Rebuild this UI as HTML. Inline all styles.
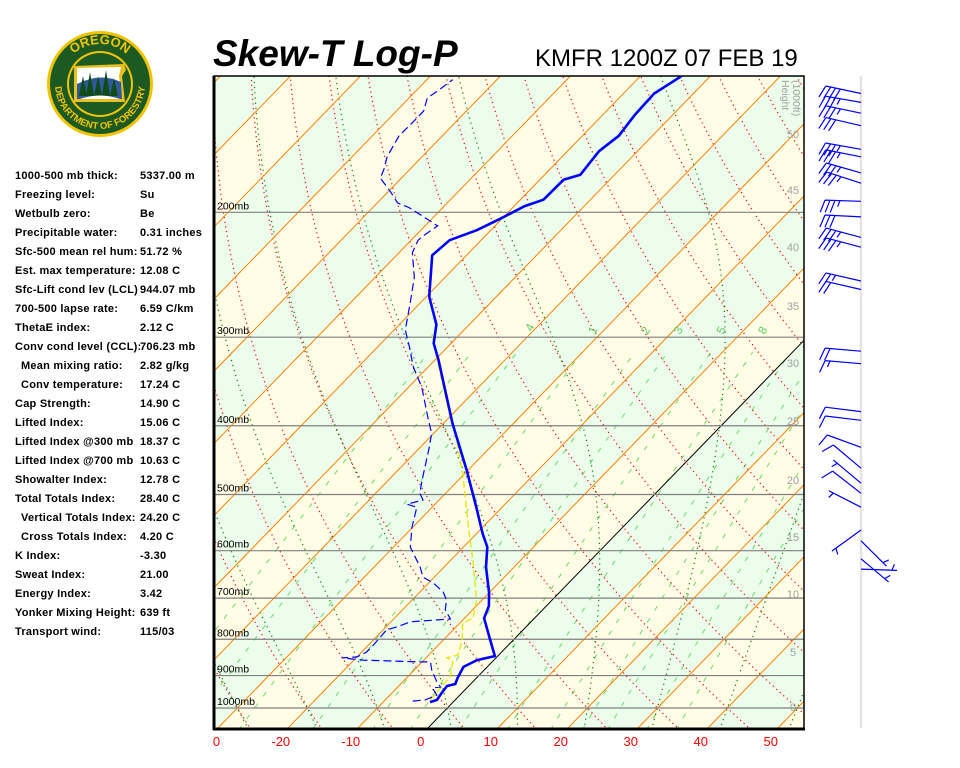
<!DOCTYPE html>
<html><head><meta charset="utf-8"><title>Skew-T Log-P KMFR</title>
<style>
html,body{margin:0;padding:0;background:#fff;width:960px;height:768px;overflow:hidden}
body{position:relative;font-family:"Liberation Sans",Arial,sans-serif}
.row{position:absolute;font-weight:bold;font-size:11px;letter-spacing:0.25px;color:#000;white-space:nowrap;line-height:12px}
#chart{position:absolute;left:0;top:0}
</style></head>
<body>
<svg id="chart" width="960" height="768" xmlns="http://www.w3.org/2000/svg">
  <defs><clipPath id="plotclip"><rect x="214" y="76" width="590" height="653"/></clipPath></defs>
  <g id="logo">
    <circle cx="100" cy="84" r="53" fill="#f2c400"/>
    <circle cx="100" cy="84" r="50" fill="#1d5a22"/>
    <circle cx="100" cy="84" r="33" fill="#f2c400"/>
    <circle cx="100" cy="84" r="31" fill="#1d5a22"/>
    <path d="M74 66 L124 64 L126 70 L122 76 L125 102 L74 102 Z" fill="#e8c020"/>
    <path d="M77 68 L121 67 L119 76 L122 99 L77 99 Z" fill="#fff"/>
    <path d="M77 84 Q100 72 121 82 L122 99 L77 99 Z" fill="#2f5a9a"/>
    <path d="M79 96 L83 76 L87 96 Z M86 96 L90 72 L94 96 Z M94 96 L98 76 L102 96 Z M102 96 L106 70 L110 96 Z M110 96 L114 78 L118 96 Z" fill="#0f4a1a"/>
    <path d="M80 99 Q100 92 120 99 Z" fill="#ffffff"/>
    <path id="arcTop" d="M60 84 A40 40 0 0 1 140 84" fill="none"/>
    <path id="arcBot" d="M61 61.5 A45 45 0 1 0 139 61.5" fill="none"/>
    <text font-family="Liberation Sans, sans-serif" font-weight="bold" font-size="13" fill="#f2c400"><textPath href="#arcTop" startOffset="50%" text-anchor="middle">OREGON</textPath></text>
    <text font-family="Liberation Sans, sans-serif" font-weight="bold" font-size="9.5" fill="#f2c400"><textPath href="#arcBot" startOffset="50%" text-anchor="middle">DEPARTMENT OF FORESTRY</textPath></text>
  </g>
  <text x="213" y="66" font-family="Liberation Sans, sans-serif" font-weight="bold" font-style="italic" font-size="37" fill="#000">Skew-T Log-P</text>
  <text x="535" y="66" font-family="Liberation Sans, sans-serif" font-size="24" fill="#000">KMFR 1200Z 07 FEB 19</text>
  <g id="bands" clip-path="url(#plotclip)"></g>
  <g id="grid" clip-path="url(#plotclip)"></g>
  <g id="series" clip-path="url(#plotclip)"></g>
  <g id="axes"></g>
  <g id="winds"></g>
</svg>
<div id="panel"></div>
<script>
// ---- data ----
const pressureLevels = [1000, 900, 800, 700, 600, 500, 400, 300, 200];
const tempTicks = [-30, -20, -10, 0, 10, 20, 30, 40, 50];
const tempP = [981, 974, 953, 931, 925, 907, 875, 856, 845, 802, 747, 718, 688, 633, 593, 567, 521, 462, 397, 323, 306, 288, 263, 230, 219, 212, 204, 196, 192, 180, 177, 164, 156, 146, 136, 129, 122];
const tempT = [-3.3, -2.6, -2.9, -3.1, -2.2, -2.7, -3.4, -2.4, -0.4, -3.3, -7.2, -8.2, -10.0, -14.0, -16.6, -19.2, -23.7, -30.2, -38.7, -49.5, -52.5, -54.7, -59.6, -64.9, -64.5, -62.0, -60.2, -58.5, -56.7, -56.6, -54.9, -55.5, -54.8, -55.4, -55.6, -54.2, -53.6];
const dewP = [978, 974, 959, 937, 934, 919, 884, 861, 861, 856, 850, 847, 834, 815, 776, 769, 756, 749, 727, 704, 686, 666, 654, 633, 593, 556, 521, 516, 509, 498, 477, 429, 410, 392, 353, 330, 310, 293, 268, 247, 228, 219, 215, 209, 206, 197, 194, 187, 179, 174, 167, 156, 149, 144, 138, 135, 130];
const dewT = [-5.9, -4.3, -3.3, -4.9, -3.9, -5.1, -7.5, -8.8, -10.3, -18.7, -22.0, -20.0, -19.3, -19.3, -19.5, -18.5, -17.2, -11.9, -13.9, -15.1, -16.7, -19.4, -21.6, -23.4, -27.6, -30.1, -32.2, -34.0, -32.3, -33.7, -35.2, -38.7, -40.3, -42.7, -48.1, -52.2, -55.4, -58.4, -61.5, -64.4, -68.1, -69.0, -68.8, -68.2, -69.8, -74.8, -77.1, -79.7, -83.0, -83.7, -85.0, -86.2, -86.1, -86.1, -87.4, -86.9, -86.3];
const parcelP = [974, 949, 928, 904, 861, 850, 842, 802, 759, 747, 704, 618, 567, 472, 419, 376, 323, 296];
const parcelT = [-3.6, -3.7, -3.8, -3.9, -5.6, -7.0, -5.8, -7.3, -9.6, -8.8, -10.8, -16.9, -21.1, -29.8, -35.8, -41.7, -49.7, -54.2];
const mixRatios = [0.1, 0.2, 0.4, 1, 2, 3, 5, 8, 12, 16, 20, 28, 36];
const mixLabels = [".4", "1", "2", "3", "5", "8"];
const mixLabelValues = [0.4, 1, 2, 3, 5, 8];
const heightLabels = [0, 5, 10, 15, 20, 25, 30, 35, 40, 45, 50];
const heightP = [997, 834, 691, 574, 477, 394, 326, 271, 224, 186, 155];
const windP = [136, 140, 145, 151, 163, 167, 176, 182, 193, 203, 217, 224, 250, 257, 314, 327, 382, 393, 429, 459, 482, 498, 521, 561, 581, 616, 637];
const windDir = [282, 280, 282, 283, 280, 281, 286, 288, 272, 273, 285, 285, 283, 283, 275, 275, 277, 277, 290, 310, 310, 308, 297, 234, 135, 130, 92];
const windSpd = [40, 35, 35, 30, 35, 35, 35, 35, 35, 30, 35, 35, 25, 20, 20, 15, 10, 10, 10, 10, 5, 10, 5, 5, 5, 5, 5];

// ---- axis functions ----
const NS = "http://www.w3.org/2000/svg";
const SKEW = 0.97;
function Y(p) { return 708 - 308 * Math.log(1000 / p); }
function X(T, p) { return 427 + 7 * T + SKEW * (729 - Y(p)); }
const P_BOT = 1075, P_TOP = 120;
function mk(tag, attrs, parent) {
  const el = document.createElementNS(NS, tag);
  for (const k in attrs) el.setAttribute(k, attrs[k]);
  parent.appendChild(el);
  return el;
}
function pathFrom(pts) { return pts.map((q, i) => (i ? "L" : "M") + q[0].toFixed(1) + " " + q[1].toFixed(1)).join(" "); }
const bands = document.getElementById("bands"), grid = document.getElementById("grid"),
      series = document.getElementById("series"), axes = document.getElementById("axes"), winds = document.getElementById("winds");

// bands
for (let T = -140; T < 60; T += 10) {
  const odd = Math.abs(Math.floor(T / 10)) % 2 === 1;
  const pts = [[X(T, P_BOT), Y(P_BOT)], [X(T + 10, P_BOT), Y(P_BOT)], [X(T + 10, P_TOP), Y(P_TOP)], [X(T, P_TOP), Y(P_TOP)]];
  const b = mk("path", { d: pathFrom(pts) + "Z", fill: odd ? "#fffde6" : "#ecfdec" }, bands);
  
  
}
// mixing ratio lines
function tdFromW(w, p) { const e = w * p / (622 + w); const l = Math.log(e / 6.112); return 243.5 * l / (17.67 - l); }
mixRatios.forEach(w => {
  const pts = [];
  for (let p = P_BOT; p >= 310; p -= 10) pts.push([X(tdFromW(w, p), p), Y(p)]);
  const l = mk("path", { d: pathFrom(pts), fill: "none", stroke: "#66dd66", "stroke-width": 1, "stroke-dasharray": "5,9" }, grid);
  
  
});
mixLabelValues.forEach((w, i) => {
  const p = 300, x = X(tdFromW(w, p), p) + 2, y = Y(p) - 2;
  const t = mk("text", { x: x, y: y, "font-size": 12, fill: "#66cc66", "font-family": "Liberation Sans, sans-serif", transform: "rotate(-62 " + x + " " + y + ")" }, axes);
  t.textContent = mixLabels[i];
  
  
});
// dry adiabats
for (let th = -60; th <= 220; th += 10) {
  const pts = [];
  for (let p = P_BOT; p >= P_TOP; p -= 5) pts.push([X((th + 273.15) * Math.pow(p / 1000, 0.2857) - 273.15, p), Y(p)]);
  const l = mk("path", { d: pathFrom(pts), fill: "none", stroke: "#ff0000", "stroke-width": 1.2, "stroke-dasharray": "1.2,3.5" }, grid);
  
  
}
// moist adiabats
function dTdp(p, T) {
  const Tc = T - 273.15, es = 6.112 * Math.exp(17.67 * Tc / (Tc + 243.5)), rs = 0.622 * es / (p - es);
  return (287.04 * T + 2.501e6 * rs) / (p * (1005.7 + 2.501e6 * 2.501e6 * rs * 0.622 / (287.04 * T * T)));
}
for (let t0 = -50; t0 <= 50; t0 += 10) {
  const up = [], dn = [];
  let T = t0 + 273.15;
  for (let p = 1000; p >= P_TOP; p -= 2) { up.push([X(T - 273.15, p), Y(p)]); T += dTdp(p, T) * -2; }
  T = t0 + 273.15;
  for (let p = 1000; p <= P_BOT; p += 2) { dn.unshift([X(T - 273.15, p), Y(p)]); T += dTdp(p, T) * 2; }
  const l = mk("path", { d: pathFrom(dn.concat(up)), fill: "none", stroke: "#008000", "stroke-width": 1.2, "stroke-dasharray": "1.2,4" }, grid);
  
  
}
// isotherms
for (let T = -140; T <= 60; T += 10) {
  const l = mk("line", { x1: X(T, P_BOT), y1: Y(P_BOT), x2: X(T, P_TOP), y2: Y(P_TOP), stroke: T === 0 ? "#000" : "#ff8000", "stroke-width": 1 }, grid);
  
  
}
// pressure lines
pressureLevels.forEach(p => {
  const l = mk("line", { x1: 214, x2: 804, y1: Y(p), y2: Y(p), stroke: "#808080", "stroke-width": 1.2 }, grid);
  
  
  const t = mk("text", { x: 217, y: Y(p) - 3, "font-size": 10.5, fill: "#000", "font-family": "Liberation Sans, sans-serif" }, axes);
  t.textContent = p + "mb";
  
  
});
// series
function seriesPath(P, T) { return pathFrom(P.map((p, i) => [X(T[i], p), Y(p)])); }
let s = mk("path", { d: seriesPath(parcelP, parcelT), fill: "none", stroke: "#e6e600", "stroke-width": 1.3, "stroke-dasharray": "7,3" }, series);


s = mk("path", { d: seriesPath(dewP, dewT), fill: "none", stroke: "#0000ff", "stroke-width": 1.2, "stroke-dasharray": "8,4" }, series);


s = mk("path", { d: seriesPath(tempP, tempT), fill: "none", stroke: "#0000ff", "stroke-width": 2.6, "stroke-linejoin": "round" }, series);



// frame
let fr = mk("rect", { x: 214, y: 76, width: 590, height: 653, fill: "none", stroke: "#000", "stroke-width": 1.5 }, axes);


fr = mk("line", { x1: 214, y1: 76, x2: 214, y2: 730, stroke: "#000", "stroke-width": 3 }, axes);


fr = mk("line", { x1: 213, y1: 729, x2: 805, y2: 729, stroke: "#000", "stroke-width": 3 }, axes);


// temperature ticks
tempTicks.forEach(T => {
  const t = mk("text", { x: X(T, P_BOT) - 5, y: 746, "font-size": 13, fill: "#ff0000", "text-anchor": "middle", "font-family": "Liberation Sans, sans-serif" }, axes);
  t.textContent = String(T);
  
  
});
fr = mk("rect", { x: 195, y: 732, width: 18, height: 20, fill: "#fff" }, axes);


// height labels
heightLabels.forEach((h, i) => {
  const t = mk("text", { x: 793, y: Y(heightP[i]) + 4, "font-size": 11, fill: "#a0a0a0", "text-anchor": "middle", "font-family": "Liberation Sans, sans-serif" }, axes);
  t.textContent = String(h);
  
  
});
let ht = mk("text", { x: 0, y: 0, "font-size": 10.5, fill: "#a0a0a0", "font-family": "Liberation Sans, sans-serif", transform: "translate(782 80) rotate(90)" }, axes);
ht.textContent = "Height";


ht = mk("text", { x: 0, y: 0, "font-size": 10.5, fill: "#a0a0a0", "font-family": "Liberation Sans, sans-serif", transform: "translate(793 80) rotate(90)" }, axes);
ht.textContent = "(1000ft)";



// wind barbs
let pole = mk("line", { x1: 861, y1: 76, x2: 861, y2: 728, stroke: "#e4e4e4", "stroke-width": 2.5 }, winds);


windP.forEach((p, i) => {
  const d = windDir[i] * Math.PI / 180, L = 36;
  const bx = 861, by = Y(p);
  const ux = Math.sin(d), uy = -Math.cos(d);
  const tx = bx + ux * L, ty = by + uy * L;
  const bvx = 0.94 * (uy) + 0.34 * ux, bvy = 0.94 * (-ux) + 0.34 * uy;
  let dpath = "M" + bx + " " + by.toFixed(1) + " L" + tx.toFixed(1) + " " + ty.toFixed(1);
  let spd = windSpd[i], pos = 0;
  if (spd < 10) pos = 5;
  while (spd >= 10) { const sx = tx - ux * pos, sy = ty - uy * pos; dpath += " M" + sx.toFixed(1) + " " + sy.toFixed(1) + " l" + (bvx * 13).toFixed(1) + " " + (bvy * 13).toFixed(1); spd -= 10; pos += 5; }
  if (spd >= 5) { const sx = tx - ux * pos, sy = ty - uy * pos; dpath += " M" + sx.toFixed(1) + " " + sy.toFixed(1) + " l" + (bvx * 6.5).toFixed(1) + " " + (bvy * 6.5).toFixed(1); }
  const w = mk("path", { d: dpath, fill: "none", stroke: "#0000ff", "stroke-width": 1.2 }, winds);
  
  
});

// text panel
const panelLabels = ["1000-500 mb thick:", "Freezing level:", "Wetbulb zero:", "Precipitable water:", "Sfc-500 mean rel hum:", "Est. max temperature:", "Sfc-Lift cond lev (LCL)", "700-500 lapse rate:", "ThetaE index:", "Conv cond level (CCL):", " Mean mixing ratio:", " Conv temperature:", "Cap Strength:", "Lifted Index:", "Lifted Index @300 mb", "Lifted Index @700 mb", "Showalter Index:", "Total Totals Index:", " Vertical Totals Index:", " Cross Totals Index:", "K Index:", "Sweat Index:", "Energy Index:", "Yonker Mixing Height:", "Transport wind:"];
const panelValues = ["5337.00 m", "Su", "Be", "0.31 inches", "51.72 %", "12.08 C", "944.07 mb", "6.59 C/km", "2.12 C", "706.23 mb", "2.82 g/kg", "17.24 C", "14.90 C", "15.06 C", "18.37 C", "10.63 C", "12.78 C", "28.40 C", "24.20 C", "4.20 C", "-3.30", "21.00", "3.42", "639 ft", "115/03"];
const panel = document.getElementById("panel");
panelLabels.forEach((lab, i) => {
  const top = 170 + i * 19;
  const a = document.createElement("div");
  a.className = "row";
  a.style.left = (lab.startsWith(" ") ? 21 : 15) + "px";
  a.style.top = top + "px";
  a.textContent = lab.trim();
  
  
  panel.appendChild(a);
  const v = document.createElement("div");
  v.className = "row";
  v.style.left = "140px";
  v.style.top = top + "px";
  v.style.background = "#fff";
  v.textContent = panelValues[i];
  
  
  panel.appendChild(v);
});
</script>
</body></html>
